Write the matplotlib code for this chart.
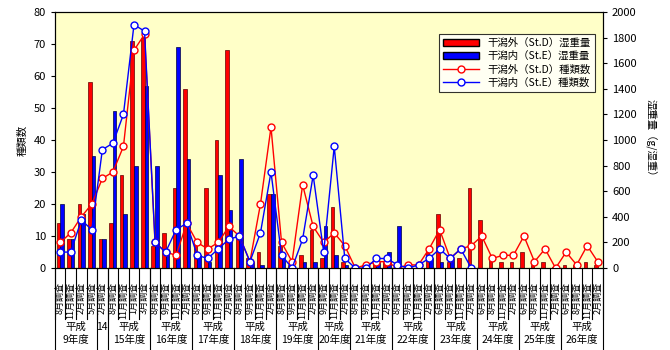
import numpy as np
import matplotlib
matplotlib.use('Agg')
import matplotlib.pyplot as plt
from matplotlib.patches import Patch
from matplotlib.lines import Line2D
import matplotlib.transforms as mtransforms

plt.rcParams['font.family'] = ['Noto Sans CJK JP', 'DejaVu Sans']
plt.rcParams['font.size'] = 7.5

# survey months per fiscal year group
groups = ['平成\n9年度', '14', '平成\n15年度', '平成\n16年度', '平成\n17年度', '平成\n18年度',
          '平成\n19年度', '平成\n20年度', '平成\n21年度', '平成\n22年度', '平成\n23年度',
          '平成\n24年度', '平成\n25年度', '平成\n26年度']
group_months = [[8, 11, 2, 5], [2], [8, 11, 1, 3], [8, 9, 11, 2], [8, 9, 11, 2],
                [8, 9, 11, 2], [8, 9, 11, 2], [9, 11, 2], [8, 9, 11, 2], [8, 9, 11, 2],
                [6, 8, 11, 2], [6, 8, 11, 2], [6, 8, 11, 2], [6, 8, 11, 2]]

# wet weight (g/m2)
weight_out = [350, 225, 500, 1450, 225, 350, 725, 1775, 1800, 175, 275, 625, 1400,
              200, 625, 1000, 1700, 225, 75, 125, 575, 175, 25, 100, 300, 75, 475, 50,
              0, 25, 50, 50, 0, 0, 0, 125, 425, 50, 75, 625, 375, 75, 50, 50, 125, 25,
              50, 12, 25, 25, 50, 25]
weight_in = [500, 225, 425, 875, 225, 1225, 425, 800, 1425, 800, 125, 1725, 850,
             100, 50, 725, 450, 850, 50, 25, 575, 75, 0, 50, 50, 325, 100, 25,
             0, 25, 50, 125, 325, 0, 0, 75, 50, 75, 0, 0] + [np.nan] * 12

# number of species
species_out = [8, 11, 16, 20, 28, 30, 38, 68, 73, 8, 5, 4, 14, 8, 6, 8, 13, 10, 2, 20,
               44, 8, 2, 26, 13, 8, 11, 7, 0, 1, 2, 2, 0, 1, 1, 6, 12, 3, 6, 7, 10, 3,
               4, 4, 10, 2, 6, 0, 5, 1, 7, 2]
species_in = [5, 5, 15, 12, 37, 39, 48, 76, 74, 8, 5, 12, 14, 4, 3, 6, 9, 10, 2, 11,
              30, 4, 0, 9, 29, 5, 38, 3, 0, 0, 3, 3, 1, 0, 1, 3, 6, 3, 6, 0] + [np.nan] * 12

labels = [f'{m}月調査' for g in group_months for m in g]
x = np.arange(len(labels))

fig = plt.figure(figsize=(6.7, 3.5), dpi=100)
ax = fig.add_axes([0.082, 0.234, 0.818, 0.732])
ax2 = ax.twinx()
ax.set_zorder(ax2.get_zorder() + 1)
ax.patch.set_visible(False)
ax2.patch.set_visible(True)
ax2.set_facecolor('#FFFFC8')

w = 0.34
ax2.bar(x - w / 2, weight_out, w, color='#FF0000', edgecolor='#600000', linewidth=0.5)
ax2.bar(x + w / 2, weight_in, w, color='#0000FF', edgecolor='#000040', linewidth=0.5)

ax.plot(x, species_out, color='red', lw=1, marker='o', ms=5, mfc='white', mec='red', mew=1)
ax.plot(x, species_in, color='blue', lw=1, marker='o', ms=5, mfc='white', mec='blue', mew=1)

ax.set_xlim(-0.5, len(x) - 0.5)
ax.set_ylim(0, 80)
ax.set_yticks(range(0, 81, 10))
ax2.set_ylim(0, 2000)
ax2.set_yticks(range(0, 2001, 200))
ax.set_ylabel('種類数', fontsize=7.5)
ax2.set_ylabel('湿重量（g/湿重）', rotation=-90, labelpad=14, fontsize=7.5)

ax.set_xticks(x)
ax.set_xticklabels(labels, rotation=90, fontsize=6.5, va='top')
ax.tick_params(axis='x', length=0, pad=10)
ax.tick_params(axis='y', length=3, labelsize=8)
ax2.tick_params(axis='y', length=3, labelsize=8)

# separators under the axis
trans = mtransforms.blended_transform_factory(ax.transData, ax.transAxes)
starts = np.cumsum([0] + [len(g) for g in group_months])
for b in np.arange(len(x) + 1) - 0.5:
    ax.plot([b, b], [0, -0.2], color='black', lw=0.8, transform=trans, clip_on=False)
for b in starts:
    ax.plot([b - 0.5, b - 0.5], [0, -0.32], color='black', lw=0.8, transform=trans, clip_on=False)
for i, g in enumerate(groups):
    c = (starts[i] + starts[i + 1] - 1) / 2
    if '\n' in g:
        ax.text(c, -0.255, g, transform=trans, ha='center', va='center', fontsize=7.5,
                linespacing=1.4)
    else:
        ax.text(c, -0.23, g, transform=trans, ha='center', va='center', fontsize=7.5)

handles = [Patch(facecolor='#FF0000', edgecolor='black'),
           Patch(facecolor='#0000FF', edgecolor='black'),
           Line2D([], [], color='red', lw=1, marker='o', ms=5, mfc='white', mec='red'),
           Line2D([], [], color='blue', lw=1, marker='o', ms=5, mfc='white', mec='blue')]
names = ['干潟外（St.D）湿重量', '干潟内（St.E）湿重量', '干潟外（St.D）種類数', '干潟内（St.E）種類数']
leg = ax.legend(handles, names, loc='upper right', bbox_to_anchor=(0.995, 0.935),
                fontsize=7.5, frameon=True, fancybox=False, edgecolor='black',
                handlelength=3.5, borderpad=0.4, labelspacing=0.3)
leg.get_frame().set_linewidth(0.8)

fig.savefig('out.png', dpi=100)
